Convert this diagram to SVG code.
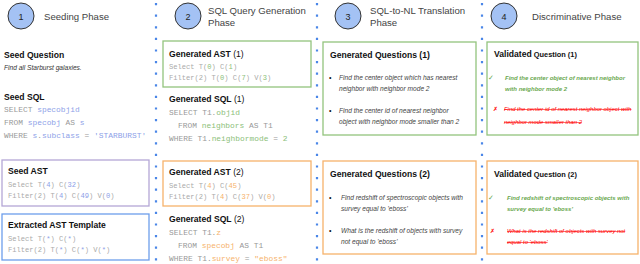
<svg xmlns="http://www.w3.org/2000/svg" width="640" height="264" viewBox="0 0 640 264">
<style>
.ph{font-family:"Liberation Sans",Arial,sans-serif;font-size:9.6px;fill:#444}
.num{font-family:"Liberation Sans",Arial,sans-serif;font-size:9px;fill:#222;text-anchor:middle}
.circ{fill:#a4c2f4;stroke:#333;stroke-width:1}
.h{font-family:"Liberation Sans",Arial,sans-serif;font-size:8.6px;font-weight:bold;fill:#111}
.hn{font-weight:normal}
.q{font-family:"Liberation Sans",Arial,sans-serif;font-size:6.6px;font-style:italic;fill:#444}
.code{font-family:"Liberation Mono","Courier New",monospace;font-size:7.9px;fill:#999}
.ast{font-family:"Liberation Mono","Courier New",monospace;font-size:7.1px;fill:#aaa}
.b{fill:#8e9fe8}.g{fill:#8cc079}.o{fill:#f6b26b}
.box{fill:none;stroke-width:1.3}
.pu{stroke:#b4a7d6}.bl{stroke:#6d9eeb}.gr{stroke:#93c47d}.or{stroke:#f6b26b}
.sep{stroke:#4a86e8;stroke-width:2.2;stroke-dasharray:2.2 9.4}
.ok{font-family:"Liberation Sans",Arial,sans-serif;font-size:6px;font-style:italic;font-weight:bold;fill:#6aa84f}
.bad{font-family:"Liberation Sans",Arial,sans-serif;font-size:5.9px;font-style:italic;fill:#ff0000;text-decoration:line-through}
.mk{font-family:"DejaVu Sans",sans-serif;font-size:7px}
.bul{font-family:"Liberation Sans",Arial,sans-serif;font-size:7px;fill:#111}
</style>
<g id="connectors">
<line class="sep" x1="156" y1="3" x2="156" y2="264"/>
<line class="sep" x1="317" y1="3" x2="317" y2="264"/>
<line class="sep" x1="482" y1="3" x2="482" y2="264"/>
</g>
<g id="phase1">
<circle class="circ" cx="21" cy="16" r="13"/>
<text class="num" x="21" y="19.5">1</text>
<text class="ph" x="44" y="19.5">Seeding Phase</text>
</g>
<g id="seed-question">
<text class="h" x="4" y="58">Seed Question</text>
<text class="q" x="4" y="70" style="fill:#333">Find all Starburst galaxies.</text>
</g>
<g id="seed-sql">
<text class="h" x="4" y="99.5">Seed SQL</text>
<text class="code" x="4" y="112">SELECT <tspan class="b">specobjid</tspan></text>
<text class="code" x="4" y="125">FROM <tspan class="b">specobj</tspan> AS <tspan class="b">s</tspan></text>
<text class="code" x="4" y="138">WHERE <tspan class="b">s</tspan>.<tspan class="b">subclass</tspan> = <tspan class="b">'STARBURST'</tspan></text>
</g>
<g id="seed-ast">
<rect class="box pu" x="2" y="160" width="147" height="46"/>
<text class="h" x="8" y="174">Seed AST</text>
<text class="ast" x="8" y="186.5">Select T(<tspan class="b">4</tspan>) C(<tspan class="b">32</tspan>)</text>
<text class="ast" x="8" y="197.5">Filter(2) T(<tspan class="b">4</tspan>) C(<tspan class="b">49</tspan>) V(<tspan class="b">0</tspan>)</text>
</g>
<g id="ast-template">
<rect class="box bl" x="2" y="214" width="147" height="46"/>
<text class="h" x="8" y="228">Extracted AST Template</text>
<text class="ast" x="8" y="240.5">Select T(<tspan class="b">*</tspan>) C(<tspan class="b">*</tspan>)</text>
<text class="ast" x="8" y="251.5">Filter(2) T(<tspan class="b">*</tspan>) C(<tspan class="b">*</tspan>) V(<tspan class="b">*</tspan>)</text>
</g>
<g id="phase2">
<circle class="circ" cx="188" cy="16" r="13"/>
<text class="num" x="188" y="19.5">2</text>
<text class="ph" x="208" y="14">SQL Query Generation</text>
<text class="ph" x="208" y="26">Phase</text>
</g>
<g id="gen-ast-1">
<rect class="box gr" x="163" y="41" width="148" height="46"/>
<text class="h" x="169" y="57">Generated AST<tspan class="hn"> (1)</tspan></text>
<text class="ast" x="169" y="69">Select T(<tspan class="g">0</tspan>) C(<tspan class="g">1</tspan>)</text>
<text class="ast" x="169" y="80">Filter(2) T(<tspan class="g">0</tspan>) C(<tspan class="g">7</tspan>) V(<tspan class="g">3</tspan>)</text>
</g>
<g id="gen-sql-1">
<text class="h" x="169" y="102">Generated SQL<tspan class="hn"> (1)</tspan></text>
<text class="code" x="169" y="115">SELECT T1.<tspan class="g">objid</tspan></text>
<text class="code" x="178" y="128">FROM <tspan class="g">neighbors</tspan> AS T1</text>
<text class="code" x="169" y="141">WHERE T1.<tspan class="g">neighbormode</tspan> = <tspan class="g">2</tspan></text>
</g>
<g id="gen-ast-2">
<rect class="box or" x="163" y="161" width="148" height="45"/>
<text class="h" x="169" y="175">Generated AST<tspan class="hn"> (2)</tspan></text>
<text class="ast" x="169" y="187.5">Select T(<tspan class="o">4</tspan>) C(<tspan class="o">45</tspan>)</text>
<text class="ast" x="169" y="198.5">Filter(2) T(<tspan class="o">4</tspan>) C(<tspan class="o">37</tspan>) V(<tspan class="o">0</tspan>)</text>
</g>
<g id="gen-sql-2">
<text class="h" x="169" y="222">Generated SQL<tspan class="hn"> (2)</tspan></text>
<text class="code" x="169" y="235">SELECT T1.<tspan class="o">z</tspan></text>
<text class="code" x="178" y="248">FROM <tspan class="o">specobj</tspan> AS T1</text>
<text class="code" x="169" y="261">WHERE T1.<tspan class="o">survey</tspan> = <tspan class="o">"eboss"</tspan></text>
</g>
<g id="phase3">
<circle class="circ" cx="348" cy="16" r="13"/>
<text class="num" x="348" y="19.5">3</text>
<text class="ph" x="370" y="14">SQL-to-NL Translation</text>
<text class="ph" x="370" y="26">Phase</text>
</g>
<g id="gen-q-1">
<rect class="box gr" x="323" y="42" width="153" height="93"/>
<text class="h" x="330" y="58">Generated Questions (1)</text>
<text class="bul" x="329" y="79.5">•</text>
<text class="q" x="339" y="79.5">Find the center object which has nearest</text>
<text class="q" x="339" y="91">neighbor with neighbor mode 2</text>
<text class="bul" x="329" y="112.5">•</text>
<text class="q" x="339" y="112.5">Find the center id of nearest neighbor</text>
<text class="q" x="339" y="124">object with neighbor mode smaller than 2</text>
</g>
<g id="gen-q-2">
<rect class="box or" x="323" y="161" width="153" height="93"/>
<text class="h" x="330" y="177">Generated Questions (2)</text>
<text class="bul" x="329" y="199.5">•</text>
<text class="q" x="341" y="199.5">Find redshift of spectroscopic objects with</text>
<text class="q" x="341" y="210.5">survey equal to 'eboss'</text>
<text class="bul" x="329" y="232.5">•</text>
<text class="q" x="341" y="232.5">What  is the redshift of objects with survey</text>
<text class="q" x="341" y="243.5">not equal to 'eboss'</text>
</g>
<g id="phase4">
<circle class="circ" cx="504" cy="16" r="13"/>
<text class="num" x="504" y="19.5">4</text>
<text class="ph" x="532" y="19.5">Discriminative Phase</text>
</g>
<g id="valid-q-1">
<rect class="box gr" x="487" y="42" width="151" height="93"/>
<text class="h" x="494" y="57">Validated<tspan style="font-size:7.4px"> Question (1)</tspan></text>
<text class="mk" x="488" y="79.5" style="fill:#6aa84f">✓</text>
<text class="ok" x="505" y="79.5">Find the center object of nearest neighbor</text>
<text class="ok" x="505" y="91">with neighbor mode  2</text>
<text class="mk" x="493" y="111" style="fill:#ff0000;font-size:6px">✗</text>
<text class="bad" x="504" y="111">Find the center id of nearest neighbor object with</text>
<text class="bad" x="504" y="124">neighbor mode smaller than 2</text>
</g>
<g id="valid-q-2">
<rect class="box or" x="487" y="161" width="151" height="93"/>
<text class="h" x="494" y="177">Validated<tspan style="font-size:7.4px"> Question (2)</tspan></text>
<text class="mk" x="488" y="199.5" style="fill:#6aa84f">✓</text>
<text class="ok" x="507" y="199.5">Find redshift of spectroscopic objects with</text>
<text class="ok" x="507" y="211">survey equal to 'eboss'</text>
<text class="mk" x="490" y="233" style="fill:#ff0000;font-size:6px">✗</text>
<text class="bad" x="507" y="233">What  is the redshift of objects with survey not</text>
<text class="bad" x="507" y="244">equal to 'eboss'</text>
</g>
</svg>
